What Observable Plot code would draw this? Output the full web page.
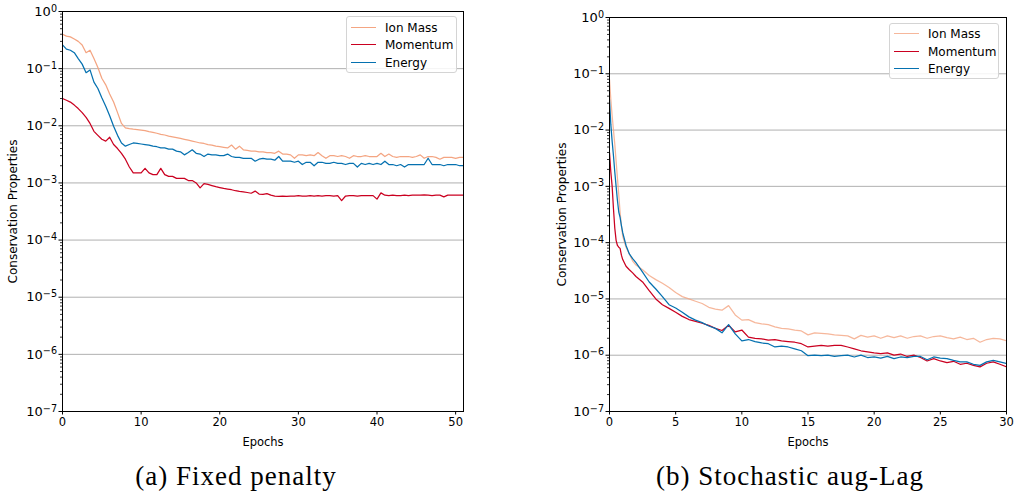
<!DOCTYPE html>
<html>
<head>
<meta charset="utf-8">
<script src="https://cdn.jsdelivr.net/npm/d3@7"></script>
<script src="https://cdn.jsdelivr.net/npm/@observablehq/plot@0.6"></script>
<style>
  html, body { margin: 0; padding: 0; background: #fff; }
  #fig { position: relative; width: 1014px; height: 493px; background: #fff; overflow: hidden; }
  .panel { position: absolute; top: 0; }
  .legend { position: absolute; border: 1px solid #d4d4d4; border-radius: 3px; background: rgba(255,255,255,0.85);
            font-family: "DejaVu Sans", sans-serif; font-size: 12px; color: #000; box-sizing: border-box; }
  .legend .row { position: absolute; left: 0; height: 14px; width: 100%; }
  .legend .swatch { position: absolute; left: 4px; top: 6px; width: 25px; height: 0; border-top: 1.5px solid; }
  .legend .lab { position: absolute; left: 38px; top: 0; line-height: 14px; white-space: nowrap; }
  .caption { position: absolute; font-family: "Liberation Serif", serif; font-size: 27px; color: #000;
             white-space: nowrap; transform: translateX(-50%); letter-spacing: 1px; }
</style>
</head>
<body>
<div id="fig"></div>
<script>
// ---------- data ----------
const seriesNames = ["Ion Mass", "Momentum", "Energy"];
const seriesColors = ["#f4a582", "#ca0020", "#0571b0"];
const yMajorTicks = [1e-7, 1e-6, 1e-5, 1e-4, 1e-3, 1e-2, 1e-1, 1];
const leftXTicks = [0, 10, 20, 30, 40, 50];
const rightXTicks = [0, 5, 10, 15, 20, 25, 30];
const captions = ["(a) Fixed penalty", "(b) Stochastic aug-Lag"];
const yLabel = "Conservation Properties";
const xLabel = "Epochs";

// (a) Fixed penalty : epochs 0..51 every 0.5
const leftEpochs = d3.range(0, 51.001, 0.5);
const leftIonMass = [
  0.40,0.37,0.36,0.33,0.30,0.26,0.19,0.21,0.15,0.105,
  0.068,0.052,0.036,0.026,0.017,0.011,0.0092,0.0089,0.0087,0.0086,
  0.0084,0.0082,0.0079,0.0077,0.0074,0.0071,0.0069,0.0066,0.0064,0.0062,
  0.0060,0.0058,0.0056,0.0054,0.0052,0.0050,0.0049,0.0047,0.0046,0.0044,
  0.0043,0.0042,0.0041,0.0046,0.0039,0.0044,0.0038,0.0037,0.0036,0.0036,
  0.0035,0.0035,0.0034,0.0034,0.0033,0.0036,0.0032,0.0032,0.0031,0.0027,
  0.0031,0.0031,0.0030,0.0031,0.0030,0.0034,0.0030,0.0027,0.0030,0.0030,
  0.0029,0.0030,0.0029,0.0027,0.0030,0.0029,0.0029,0.0030,0.0029,0.0029,
  0.0029,0.0033,0.0029,0.0032,0.0029,0.0028,0.0029,0.0029,0.0029,0.0028,
  0.0029,0.0031,0.0027,0.0029,0.0029,0.0028,0.0026,0.0028,0.0028,0.0028,
  0.0027,0.0028,0.0028
];
const leftMomentum = [
  0.030,0.028,0.026,0.023,0.020,0.017,0.014,0.011,0.0080,0.0068,
  0.0058,0.0054,0.0063,0.0047,0.0040,0.0033,0.0026,0.0019,0.0015,0.0015,
  0.0015,0.0018,0.0015,0.0014,0.0014,0.0018,0.0014,0.0013,0.0013,0.0012,
  0.0012,0.0012,0.0011,0.0011,0.00100,0.00082,0.00097,0.00094,0.00090,0.00086,
  0.00083,0.00080,0.00078,0.00076,0.00073,0.00071,0.00070,0.00068,0.00066,0.00072,
  0.00064,0.00063,0.00065,0.00061,0.00059,0.00058,0.00059,0.00058,0.00059,0.00059,
  0.00060,0.00059,0.00059,0.00060,0.00059,0.00060,0.00059,0.00060,0.00060,0.00059,
  0.00060,0.00049,0.00059,0.00060,0.00060,0.00059,0.00060,0.00060,0.00060,0.00060,
  0.00052,0.00067,0.00061,0.00060,0.00061,0.00060,0.00060,0.00061,0.00060,0.00061,
  0.00061,0.00061,0.00062,0.00061,0.00060,0.00061,0.00061,0.00057,0.00061,0.00061,
  0.00061,0.00061,0.00061
];
const leftEnergy = [
  0.26,0.22,0.21,0.19,0.15,0.12,0.085,0.095,0.058,0.045,
  0.031,0.022,0.015,0.0098,0.0068,0.0050,0.0044,0.0047,0.0050,0.0049,
  0.0048,0.0047,0.0046,0.0044,0.0043,0.0041,0.0041,0.0039,0.0039,0.0036,
  0.0035,0.0031,0.0034,0.0038,0.0033,0.0032,0.0029,0.0032,0.0031,0.0031,
  0.0030,0.0030,0.0032,0.0029,0.0028,0.0028,0.0027,0.0027,0.0027,0.0024,
  0.0026,0.0027,0.0026,0.0026,0.0025,0.0029,0.0024,0.0024,0.0024,0.0023,
  0.0024,0.0021,0.0023,0.0023,0.0020,0.0023,0.0023,0.0022,0.0022,0.0023,
  0.0022,0.0022,0.0021,0.0022,0.0022,0.0019,0.0022,0.0021,0.0022,0.0021,
  0.0022,0.0021,0.0024,0.0021,0.0021,0.0020,0.0021,0.0019,0.0021,0.0021,
  0.0021,0.0021,0.0021,0.0027,0.0021,0.0021,0.0021,0.0020,0.0021,0.0021,
  0.0021,0.0020,0.0020
];

// (b) Stochastic aug-Lag : denser sampling at the start
const rightEpochs = [0,0.1,0.2,0.3,0.4,0.5,0.6,0.7,0.8,0.9,1.0,1.25,1.5,1.75].concat(d3.range(2, 30.001, 0.5));
const rightIonMass = [
  0.079,0.035,0.018,0.010,0.0056,0.0028,0.0014,7.1e-4,3.5e-4,2.0e-4,1.3e-4,8.3e-5,6.3e-5,4.7e-5,
  4.0e-5,3.3e-5,2.6e-5,2.2e-5,1.9e-5,1.6e-5,1.3e-5,1.1e-5,1.0e-5,9.1e-6,
  8.3e-6,7.1e-6,6.6e-6,6.3e-6,7.6e-6,5.2e-6,4.2e-6,4.3e-6,3.8e-6,3.6e-6,
  3.5e-6,3.2e-6,3.0e-6,2.95e-6,2.8e-6,2.7e-6,2.3e-6,2.5e-6,2.45e-6,2.4e-6,
  2.3e-6,2.25e-6,2.2e-6,1.95e-6,2.25e-6,2.1e-6,2.2e-6,2.0e-6,2.2e-6,2.05e-6,
  2.2e-6,2.0e-6,2.15e-6,2.2e-6,2.0e-6,2.15e-6,2.2e-6,2.05e-6,1.95e-6,2.1e-6,
  1.9e-6,2.0e-6,1.7e-6,1.9e-6,2.0e-6,1.95e-6,1.8e-6
];
const rightMomentum = [
  0.004,0.0018,0.0010,4.0e-4,1.8e-4,1.1e-4,8.9e-5,8.3e-5,7.9e-5,6.0e-5,5.0e-5,3.8e-5,3.3e-5,2.9e-5,
  2.5e-5,2.0e-5,1.4e-5,1.0e-5,7.9e-6,6.8e-6,5.8e-6,4.9e-6,4.3e-6,4.0e-6,
  3.7e-6,3.4e-6,3.0e-6,2.75e-6,3.4e-6,2.6e-6,2.8e-6,2.1e-6,2.0e-6,1.95e-6,
  1.85e-6,1.9e-6,1.8e-6,1.75e-6,1.7e-6,1.6e-6,1.4e-6,1.45e-6,1.5e-6,1.45e-6,
  1.5e-6,1.5e-6,1.4e-6,1.3e-6,1.2e-6,1.15e-6,1.1e-6,1.07e-6,1.1e-6,1.0e-6,
  1.05e-6,9.5e-7,1.0e-6,9.1e-7,7.9e-7,8.7e-7,7.9e-7,7.4e-7,7.8e-7,6.9e-7,
  7.2e-7,6.6e-7,6.2e-7,7.2e-7,7.6e-7,6.9e-7,6.2e-7
];
const rightEnergy = [
  0.035,0.0126,0.0063,0.0035,0.0018,0.0010,5.6e-4,3.5e-4,2.8e-4,2.0e-4,1.5e-4,8.9e-5,6.3e-5,5.2e-5,
  4.4e-5,3.0e-5,2.0e-5,1.5e-5,1.1e-5,7.9e-6,6.9e-6,5.8e-6,4.8e-6,4.2e-6,
  3.8e-6,3.3e-6,3.0e-6,2.5e-6,3.5e-6,2.4e-6,1.8e-6,1.9e-6,1.75e-6,1.65e-6,
  1.6e-6,1.4e-6,1.45e-6,1.4e-6,1.3e-6,1.2e-6,9.8e-7,1.0e-6,9.8e-7,1.0e-6,
  9.5e-7,9.8e-7,1.0e-6,9.3e-7,1.0e-6,9.1e-7,9.3e-7,8.9e-7,9.5e-7,8.7e-7,
  9.3e-7,9.1e-7,9.5e-7,9.5e-7,8.3e-7,9.3e-7,8.9e-7,8.7e-7,8.1e-7,7.6e-7,
  7.6e-7,6.9e-7,6.6e-7,7.6e-7,8.1e-7,7.6e-7,7.1e-7
];

// ---------- helpers ----------
// tick text "10|−k" split later into base + superscript
const powFmt = (v) => { const e = Math.round(Math.log10(v)); return "10|" + (e < 0 ? "\u2212" + (-e) : String(e)); };
const yMinorTicks = yMajorTicks.slice(0, -1).flatMap(p => [2,3,4,5,6,7,8,9].map(m => m * p));

function rowsFor(epochs, lists) {
  return lists.flatMap((vals, k) => epochs.map((e, i) => ({epoch: e, value: vals[i], series: seriesNames[k]})));
}

function superscriptTicks(svg) {
  svg.querySelectorAll('g[aria-label="y-axis tick label"] text').forEach(t => {
    const s = t.textContent;
    if (!s.includes("|")) return;
    const [base, exp] = s.split("|");
    while (t.firstChild) t.removeChild(t.firstChild);
    t.appendChild(document.createTextNode(base));
    const sp = document.createElementNS("http://www.w3.org/2000/svg", "tspan");
    sp.setAttribute("dy", "-0.42em");
    sp.setAttribute("font-size", "0.74em");
    sp.textContent = exp;
    t.appendChild(sp);
  });
}

function panel({epochs, lists, xDomain, xTicks, width, marginLeft, marginRight, marginTop, ionOpacity, yLabelOffset}) {
  const rows = rowsFor(epochs, lists);
  const lineMarks = seriesNames.map((name, k) =>
    Plot.line(rows.filter(d => d.series === name), {
      x: "epoch", y: "value", stroke: seriesColors[k], strokeWidth: 1.25,
      strokeOpacity: k === 0 ? ionOpacity : 1, clip: true
    })
  );
  const svg = Plot.plot({
    width, height: 450,
    marginLeft, marginRight, marginTop, marginBottom: 39,
    style: {fontFamily: "DejaVu Sans, sans-serif", fontSize: "11px", color: "#000", background: "transparent"},
    x: {domain: xDomain},
    y: {type: "log", domain: [1e-7, 1]},
    marks: [
      Plot.gridY({ticks: yMajorTicks, stroke: "#b0b0b0", strokeOpacity: 1, strokeWidth: 1}),
      Plot.axisY({ticks: yMinorTicks, tickSize: 2, tickFormat: () => "", label: null, strokeWidth: 0.8}),
      Plot.axisY({ticks: yMajorTicks, tickSize: 3.5, tickPadding: 2, tickFormat: powFmt, fontSize: 13, label: null}),
      Plot.axisY({ticks: [], tickSize: 0, fontSize: 12,
                  label: yLabel, labelAnchor: "center", labelArrow: "none", labelOffset: yLabelOffset}),
      Plot.axisX({ticks: xTicks, tickSize: 3.5, tickPadding: 3, fontSize: 11.5, tickFormat: d3.format("d"),
                  label: xLabel, labelAnchor: "center", labelArrow: "none", labelOffset: 34}),
      ...lineMarks,
      Plot.frame({stroke: "#000", strokeWidth: 1})
    ]
  });
  superscriptTicks(svg);
  return svg;
}

function legend(left, top, width, height, rowTops, ionOpacity) {
  const box = document.createElement("div");
  box.className = "legend";
  Object.assign(box.style, {left: left + "px", top: top + "px", width: width + "px", height: height + "px"});
  seriesNames.forEach((name, k) => {
    const row = document.createElement("div");
    row.className = "row";
    row.style.top = rowTops[k] + "px";
    const sw = document.createElement("div");
    sw.className = "swatch";
    sw.style.borderTopColor = seriesColors[k];
    if (k === 0) sw.style.opacity = ionOpacity;
    const lab = document.createElement("div");
    lab.className = "lab";
    lab.textContent = name;
    row.append(sw, lab);
    box.append(row);
  });
  return box;
}

// ---------- build ----------
const fig = document.getElementById("fig");

const left = panel({epochs: leftEpochs, lists: [leftIonMass, leftMomentum, leftEnergy],
  xDomain: [0, 51], xTicks: leftXTicks, width: 480, marginLeft: 62, marginRight: 17, marginTop: 11,
  ionOpacity: 1, yLabelOffset: 54});
left.classList.add("panel");
left.style.left = "0px";
fig.append(left);

const right = panel({epochs: rightEpochs, lists: [rightIonMass, rightMomentum, rightEnergy],
  xDomain: [0, 30], xTicks: rightXTicks, width: 484, marginLeft: 79, marginRight: 8, marginTop: 17,
  ionOpacity: 0.8, yLabelOffset: 52});
right.classList.add("panel");
right.style.left = "530px";
fig.append(right);

fig.append(legend(346, 16, 111, 57, [4, 21, 39], 1));
fig.append(legend(889, 23, 110, 56, [3, 21, 38], 0.8));

const capPos = [[236, 461], [790, 461]];
captions.forEach((t, i) => {
  const c = document.createElement("div");
  c.className = "caption";
  c.textContent = t;
  c.style.left = capPos[i][0] + "px";
  c.style.top = capPos[i][1] + "px";
  fig.append(c);
});
</script>
</body>
</html>
